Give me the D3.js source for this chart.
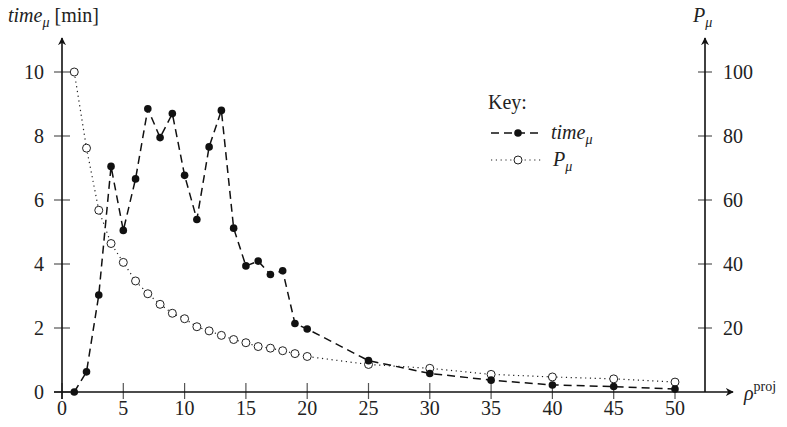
<!DOCTYPE html>
<html>
<head>
<meta charset="utf-8">
<script src="https://cdn.jsdelivr.net/npm/d3@7"></script>
<style>
  body { margin: 0; background: #fff; }
</style>
</head>
<body>
<div id="chart"></div>
<script>
// ----------------------------------------------------------------
// Data
// ----------------------------------------------------------------

const rho = [1, 2, 3, 4, 5, 6, 7, 8, 9, 10, 11, 12, 13, 14, 15, 16, 17, 18, 19, 20, 25, 30, 35, 40, 45, 50];
const timeMu = [0, 0.63, 3.03, 7.05, 5.05, 6.66, 8.85, 7.95, 8.7, 6.77, 5.39, 7.66, 8.8, 5.12,
  3.94, 4.09, 3.67, 3.79, 2.14, 1.97, 0.98, 0.58, 0.37, 0.22, 0.17, 0.09];
const pMu = [100, 76.2, 56.8, 46.4, 40.5, 34.7, 30.7, 27.4, 24.6, 22.9, 20.4, 19.1, 17.7, 16.4,
  15.4, 14.2, 13.7, 12.9, 12.0, 11.1, 8.6, 7.4, 5.5, 4.7, 4.1, 3.1];
const xTicks = [0, 5, 10, 15, 20, 25, 30, 35, 40, 45, 50];
const leftTicks = [0, 2, 4, 6, 8, 10];
const rightTicks = [20, 40, 60, 80, 100];

// ----------------------------------------------------------------
// Setup
// ----------------------------------------------------------------

const width = 787, height = 427;
const x = d3.scaleLinear().domain([0, 50]).range([62, 675]);
const yL = d3.scaleLinear().domain([0, 10]).range([392, 72]);
const yR = d3.scaleLinear().domain([0, 100]).range([392, 72]);
const rightX = 705;
const serif = "'Liberation Serif', 'Times New Roman', Tinos, 'DejaVu Serif', serif";

const svg = d3.select("#chart").append("svg")
  .attr("width", width)
  .attr("height", height)
  .attr("font-family", serif)
  .style("font-family", serif);

svg.append("defs").append("marker")
  .attr("id", "arrow")
  .attr("viewBox", "0 0 10 10")
  .attr("refX", 9).attr("refY", 5)
  .attr("markerWidth", 8).attr("markerHeight", 8)
  .attr("markerUnits", "userSpaceOnUse")
  .attr("orient", "auto")
  .append("path")
  .attr("d", "M0,0 L10,5 L0,10 L3,5 Z")
  .attr("fill", "#111");

// ----------------------------------------------------------------
// Axes
// ----------------------------------------------------------------

function axisLine(x1, y1, x2, y2) {
  svg.append("line")
    .attr("x1", x1).attr("y1", y1).attr("x2", x2).attr("y2", y2)
    .attr("stroke", "#111").attr("stroke-width", 1.6)
    .attr("marker-end", "url(#arrow)");
}

function label(px, py, size) {
  return svg.append("text")
    .attr("x", px).attr("y", py)
    .attr("font-size", size)
    .attr("fill", "#222")
    .style("font-family", serif);
}

// ticks cross the axis line
xTicks.forEach(function (t) {
  svg.append("line")
    .attr("x1", x(t)).attr("x2", x(t))
    .attr("y1", 383).attr("y2", 399)
    .attr("stroke", "#555").attr("stroke-width", 1.2);
  label(x(t), 415, 20).attr("text-anchor", "middle").text(t);
});

leftTicks.forEach(function (t) {
  svg.append("line")
    .attr("x1", 54).attr("x2", 70)
    .attr("y1", yL(t)).attr("y2", yL(t))
    .attr("stroke", "#555").attr("stroke-width", 1.2);
  label(44, yL(t) + 7, 20).attr("text-anchor", "end").text(t);
});

rightTicks.forEach(function (t) {
  svg.append("line")
    .attr("x1", rightX - 7).attr("x2", rightX + 7)
    .attr("y1", yR(t)).attr("y2", yR(t))
    .attr("stroke", "#555").attr("stroke-width", 1.2);
  label(rightX + 18, yR(t) + 7, 20).text(t);
});

axisLine(54, 392, 733, 392);
axisLine(62, 399, 62, 38);
axisLine(rightX, 392, rightX, 38);

// axis titles
const tTitle = label(8, 22, 20);
tTitle.append("tspan").attr("font-style", "italic").text("time");
tTitle.append("tspan").attr("font-style", "italic").attr("font-size", 14).attr("dy", 5).text("μ");
tTitle.append("tspan").attr("dy", -5).text(" [min]");

const pTitle = label(693, 22, 20);
pTitle.append("tspan").attr("font-style", "italic").text("P");
pTitle.append("tspan").attr("font-style", "italic").attr("font-size", 14).attr("dy", 5).text("μ");

const rTitle = label(744, 400, 20);
rTitle.append("tspan").attr("font-style", "italic").text("ρ");
rTitle.append("tspan").attr("font-size", 14).attr("dy", -9).text("proj");

// ----------------------------------------------------------------
// Series
// ----------------------------------------------------------------

const timeLine = d3.line().x(function (d, i) { return x(rho[i]); }).y(function (d) { return yL(d); });
const pLine = d3.line().x(function (d, i) { return x(rho[i]); }).y(function (d) { return yR(d); });

svg.append("path")
  .datum(pMu)
  .attr("d", pLine)
  .attr("fill", "none").attr("stroke", "#222")
  .attr("stroke-width", 1.2).attr("stroke-dasharray", "1.2 3.6");

svg.append("path")
  .datum(timeMu)
  .attr("d", timeLine)
  .attr("fill", "none").attr("stroke", "#111")
  .attr("stroke-width", 1.5).attr("stroke-dasharray", "8 5");

svg.selectAll(".p-dot").data(pMu).enter().append("circle")
  .attr("cx", function (d, i) { return x(rho[i]); })
  .attr("cy", function (d) { return yR(d); })
  .attr("r", 4)
  .attr("fill", "#fff").attr("stroke", "#222").attr("stroke-width", 1);

svg.selectAll(".t-dot").data(timeMu).enter().append("circle")
  .attr("cx", function (d, i) { return x(rho[i]); })
  .attr("cy", function (d) { return yL(d); })
  .attr("r", 3.8)
  .attr("fill", "#111");

// ----------------------------------------------------------------
// Legend
// ----------------------------------------------------------------

label(488, 109, 20).text("Key:");

svg.append("line")
  .attr("x1", 491).attr("x2", 541).attr("y1", 133).attr("y2", 133)
  .attr("stroke", "#111").attr("stroke-width", 1.5).attr("stroke-dasharray", "8 5");
svg.append("circle").attr("cx", 518).attr("cy", 133).attr("r", 3.8).attr("fill", "#111");
const l1 = label(551, 139, 20);
l1.append("tspan").attr("font-style", "italic").text("time");
l1.append("tspan").attr("font-style", "italic").attr("font-size", 14).attr("dy", 5).text("μ");

svg.append("line")
  .attr("x1", 491).attr("x2", 541).attr("y1", 160).attr("y2", 160)
  .attr("stroke", "#222").attr("stroke-width", 1.2).attr("stroke-dasharray", "1.2 3.6");
svg.append("circle").attr("cx", 518).attr("cy", 160).attr("r", 4)
  .attr("fill", "#fff").attr("stroke", "#222").attr("stroke-width", 1);
const l2 = label(553, 166, 20);
l2.append("tspan").attr("font-style", "italic").text("P");
l2.append("tspan").attr("font-style", "italic").attr("font-size", 14).attr("dy", 5).text("μ");
</script>
</body>
</html>
